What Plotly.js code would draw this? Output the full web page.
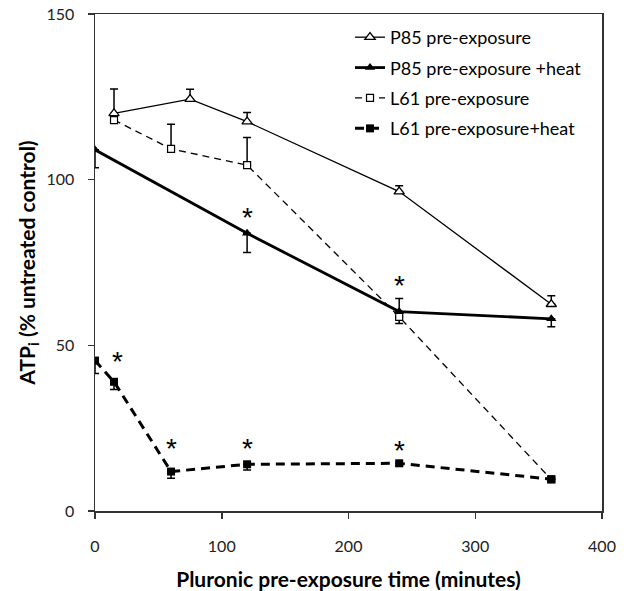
<!DOCTYPE html>
<html>
<head>
<meta charset="utf-8">
<script src="https://cdn.plot.ly/plotly-3.0.1.min.js"></script>
<style>html,body{margin:0;padding:0;background:#fff;}#chart{width:624px;height:591px;}</style>
</head>
<body>
<div id="chart"></div>
<script>
// P85 pre-exposure
var p85X = [15, 75, 120, 240, 360];
var p85Y = [120, 124.3, 117.5, 96.4, 62.4];
var p85ErrPlus = [7.4, 3, 2.8, 1.8, 2.6];
var p85ErrMinus = [0, 0, 0, 0, 0];

// P85 pre-exposure + heat
var p85hX = [0, 120, 240, 360];
var p85hY = [109, 83.8, 60.2, 58];
var p85hErrPlus = [0, 0, 3.9, 0];
var p85hErrMinus = [5.4, 5.8, 0, 2.4];

// L61 pre-exposure
var l61X = [15, 60, 120, 240, 360];
var l61Y = [118, 109.3, 104.4, 58.6, 9.5];
var l61ErrPlus = [0, 7.4, 8.3, 0, 0];
var l61ErrMinus = [0, 0, 0, 2, 0];

// L61 pre-exposure + heat
var l61hX = [0, 15, 60, 120, 240, 360];
var l61hY = [45.4, 39, 11.9, 14.1, 14.4, 9.6];
var l61hErrPlus = [0, 0, 0, 0, 0, 0];
var l61hErrMinus = [3.9, 2.3, 2, 1.7, 0.8, 0];

// significance markers (*)
var starX = [18, 60, 120, 240, 120, 240];
var starY = [46.6, 20.4, 20.4, 19.9, 90, 69.7];

var seriesNames = ["P85 pre-exposure", "P85 pre-exposure +heat", "L61 pre-exposure", "L61 pre-exposure+heat"];
var xTicks = [0, 100, 200, 300, 400];
var yTicks = [0, 50, 100, 150];

function err(p, m) {
  return {type: 'data', symmetric: false, array: p, arrayminus: m, color: '#000', thickness: 1.5, width: 4};
}

var traces = [
  {x: p85X, y: p85Y, name: seriesNames[0], legendgroup: 'a', mode: 'lines+markers',
   line: {color: '#000', width: 1.3},
   marker: {symbol: 'triangle-up', size: 9, color: '#fff', line: {color: '#000', width: 1.3}},
   error_y: err(p85ErrPlus, p85ErrMinus)},
  {x: p85hX, y: p85hY, name: seriesNames[1], legendgroup: 'b', mode: 'lines+markers',
   line: {color: '#000', width: 2.8},
   marker: {symbol: 'triangle-up', size: 9, color: '#000'},
   error_y: err(p85hErrPlus, p85hErrMinus)},
  {x: l61X, y: l61Y, name: seriesNames[2], legendgroup: 'c', mode: 'lines+markers',
   line: {color: '#000', width: 1.3, dash: '7px,5px'},
   marker: {symbol: 'square', size: 7, color: '#fff', line: {color: '#000', width: 1.2}},
   error_y: err(l61ErrPlus, l61ErrMinus)},
  {x: l61hX, y: l61hY, name: seriesNames[3], legendgroup: 'd', mode: 'lines+markers',
   line: {color: '#000', width: 3, dash: '9px,6px'},
   marker: {symbol: 'square', size: 8, color: '#000'},
   error_y: err(l61hErrPlus, l61hErrMinus)}
];

var annotations = starX.map(function (x, i) {
  return {x: x, y: starY[i], xref: 'x', yref: 'y', text: '*', showarrow: false,
          xanchor: 'center', yanchor: 'middle', yshift: -5,
          font: {family: 'Liberation Sans, Arial, sans-serif', size: 28, color: '#000000'}};
});

var layout = {
  width: 624, height: 591,
  margin: {l: 95, r: 22, t: 14, b: 80},
  paper_bgcolor: '#fff', plot_bgcolor: '#fff',
  font: {family: 'Lato, sans-serif', size: 16, color: '#222'},
  showlegend: true,
  annotations: annotations,
  legend: {x: 0.503, y: 0.99, xanchor: 'left', yanchor: 'top', bgcolor: 'rgba(0,0,0,0)',
           traceorder: 'grouped', tracegroupgap: 4,
           font: {family: 'Lato, sans-serif', size: 18, color: '#000'}},
  xaxis: {range: [0, 400], tickvals: xTicks, ticktext: xTicks.map(String), automargin: false,
          showgrid: false, zeroline: false, showline: true, linecolor: '#333', linewidth: 1.5,
          mirror: true, ticks: 'outside', ticklen: 6, tickcolor: '#333', tickwidth: 1.5,
          ticklabelstandoff: 14,
          title: {text: 'Pluronic pre-exposure time (minutes)', font: {family: 'Lato, sans-serif', size: 21, color: '#000', weight: 'bold'}, standoff: 19}},
  yaxis: {range: [0, 150], tickvals: yTicks, ticktext: yTicks.map(String), automargin: false,
          showgrid: false, zeroline: false, showline: true, linecolor: '#333', linewidth: 1.5,
          mirror: true, ticks: 'outside', ticklen: 6, tickcolor: '#333', tickwidth: 1.5,
          ticklabelstandoff: 10,
          title: {text: 'ATP<sub>i</sub> (% untreated control)', font: {family: 'Lato, sans-serif', size: 21, color: '#000', weight: 'bold'}, standoff: 5}}
};

Plotly.newPlot('chart', traces, layout, {displayModeBar: false, staticPlot: true});
</script>
</body>
</html>
